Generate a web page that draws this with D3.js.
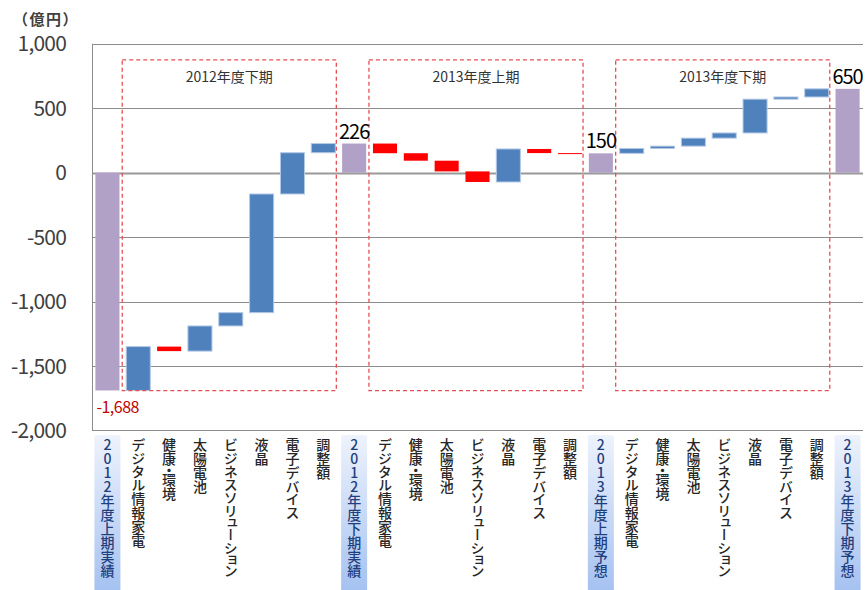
<!DOCTYPE html>
<html><head><meta charset="utf-8">
<script src="https://cdn.jsdelivr.net/npm/d3@7"></script>
<style>
html,body{margin:0;padding:0;background:#fff;}
svg text{font-family:"Noto Sans CJK JP","Noto Sans",sans-serif;}
</style></head>
<body><svg id="c" width="866" height="590"></svg>
<script>
const categories = ['2012年度上期実績','デジタル情報家電','健康・環境','太陽電池','ビジネスソリューション','液晶','電子デバイス','調整額',
  '2012年度下期実績','デジタル情報家電','健康・環境','太陽電池','ビジネスソリューション','液晶','電子デバイス','調整額',
  '2013年度上期予想','デジタル情報家電','健康・環境','太陽電池','ビジネスソリューション','液晶','電子デバイス','調整額',
  '2013年度下期予想'];
const values = [-1688, 340, -35, 195, 103, 920, 320, 71,
  226, -75, -58, -83, -82, 256, -32, -2,
  150, 38, 18, 62, 40, 262, 17, 63,
  650];
const totalIdx = [0, 8, 16, 24];
const yTicks = [1000, 500, 0, -500, -1000, -1500, -2000];
const periods = ['2012年度下期','2013年度上期','2013年度下期'];
const periodStart = [1, 9, 17];
const periodRange = [875, -1690];
const unitLabel = '（億円）';

const fmt = d3.formatLocale({decimal: '.', thousands: ',', grouping: [3], currency: ['', ''], minus: '-'}).format(',');

const svg = d3.select('#c');
const left = 92, right = 863;
const x = d3.scaleBand().domain(d3.range(categories.length)).range([left, right]).paddingInner(0.22).paddingOuter(0.11);
const y = d3.scaleLinear().domain([-2000, 1000]).range([430.7, 43.7]);

// compute waterfall
let run = 0;
const bars = values.map((v, i) => {
  const total = totalIdx.includes(i);
  let b;
  if (total) { b = {i, y0: 0, y1: v, type: 'total', v}; run = v; }
  else { b = {i, y0: run, y1: run + v, type: v >= 0 ? 'up' : 'down', v}; run += v; }
  return b;
});

// gridlines
svg.append('g').selectAll('line').data(yTicks.filter(t => t !== -2000)).join('line')
  .attr('x1', left).attr('x2', right).attr('y1', d => Math.round(y(d)) + 0.5).attr('y2', d => Math.round(y(d)) + 0.5)
  .attr('stroke', d => d === 0 ? '#999' : '#8c8c8c').attr('stroke-width', d => d === 0 ? 2 : 1);
// axes lines
svg.append('line').attr('x1', left + 0.5).attr('x2', left + 0.5).attr('y1', y(1000)).attr('y2', y(-2000)).attr('stroke', '#8c8c8c');
svg.append('line').attr('x1', left).attr('x2', right).attr('y1', Math.round(y(-2000)) - 0.5).attr('y2', Math.round(y(-2000)) - 0.5).attr('stroke', '#8c8c8c');

// y tick labels
svg.append('g').selectAll('text').data(yTicks).join('text')
  .attr('x', 66).attr('y', d => y(d)).attr('dy', '0.36em').attr('text-anchor', 'end')
  .attr('font-size', 21).attr('letter-spacing', -0.8).attr('fill', '#404040')
  .text(d => fmt(d));
svg.append('text').attr('x', 13).attr('y', 25).attr('font-size', 15).attr('font-weight', 'bold')
  .attr('letter-spacing', 1.5).attr('fill', '#404040').text(unitLabel);

// bars
const colors = {total: '#B2A1C7', up: '#4F81BD', down: '#FF0000'};
svg.append('g').selectAll('rect').data(bars).join('rect')
  .attr('x', d => x(d.i)).attr('width', x.bandwidth())
  .attr('y', d => y(Math.max(d.y0, d.y1))).attr('height', d => Math.max(1, Math.abs(y(d.y0) - y(d.y1))))
  .attr('fill', d => colors[d.type])
  .attr('stroke', d => d.type === 'up' ? '#B4C9E6' : 'none').attr('stroke-width', 1);

// period dashed boxes
const pg = svg.append('g');
periods.forEach((p, k) => {
  const s = periodStart[k];
  const x0 = x(s) - 4, x1 = x(s + 6) + x.bandwidth() + 1;
  pg.append('rect').attr('x', x0).attr('y', y(periodRange[0])).attr('width', x1 - x0)
    .attr('height', y(periodRange[1]) - y(periodRange[0]))
    .attr('fill', 'none').attr('stroke', '#E45055').attr('stroke-width', 1.3).attr('stroke-dasharray', '4,3');
  pg.append('text').attr('x', (x0 + x1) / 2).attr('y', y(periodRange[0]) + 22)
    .attr('text-anchor', 'middle').attr('font-size', 14).attr('fill', '#333').text(p);
});

// value labels for totals
bars.filter(d => d.type === 'total').forEach(d => {
  if (d.v < 0) {
    svg.append('text').attr('x', x(d.i) + 1).attr('y', y(d.v) + 23).attr('font-size', 16)
      .attr('fill', '#C00000').attr('letter-spacing', -0.5).text(fmt(d.v));
  } else if (d.i > 0) {
    svg.append('text').attr('x', x(d.i) + x.bandwidth() / 2).attr('y', y(d.v) - 5).attr('text-anchor', 'middle')
      .attr('font-size', 20).attr('font-weight', 400).attr('letter-spacing', -1).attr('fill', '#000').text(fmt(d.v));
  }
});

// gradient
const defs = svg.append('defs');
const gr = defs.append('linearGradient').attr('id', 'tg').attr('x1', 0).attr('x2', 0).attr('y1', 0).attr('y2', 1);
gr.append('stop').attr('offset', '0%').attr('stop-color', '#EEF3FC');
gr.append('stop').attr('offset', '100%').attr('stop-color', '#A3C0F0');

// category labels
const lg = svg.append('g');
categories.forEach((c, i) => {
  const cx = x(i) + x.bandwidth() / 2;
  const tot = totalIdx.includes(i);
  if (tot) {
    lg.append('rect').attr('x', cx - 13).attr('y', 435).attr('width', 26).attr('height', 160).attr('rx', 2)
      .attr('fill', 'url(#tg)');
  }
  lg.append('text').attr('x', cx).attr('y', 438)
    .style('writing-mode', 'vertical-rl').style('text-orientation', 'upright')
    .style('font-feature-settings', tot ? 'normal' : '"vpal"')
    .attr('font-size', 14).attr('font-weight', 500)
    .attr('fill', tot ? '#1F3F7F' : '#262626').text(c);
});
</script></body></html>
